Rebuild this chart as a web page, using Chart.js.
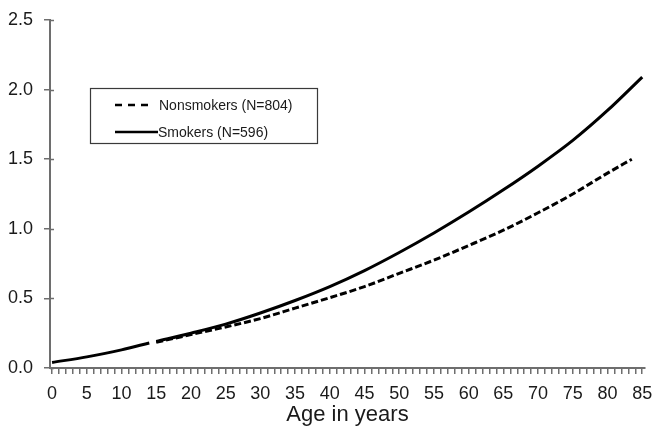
<!DOCTYPE html>
<html>
<head>
<meta charset="utf-8">
<script src="https://cdn.jsdelivr.net/npm/chart.js@4/dist/chart.umd.min.js"></script>
<style>
  html, body { margin: 0; padding: 0; background: #ffffff; }
  #wrap { width: 655px; height: 429px; }
</style>
</head>
<body>
<div id="wrap"><canvas id="c" width="655" height="429"></canvas></div>
<script>
// ---- Data ----
const childAges = [0, 5, 10, 14];
const childValues = [0.04, 0.08, 0.13, 0.18];

const smokerAges = [15, 20, 25, 30, 35, 40, 45, 50, 55, 60, 65, 70, 75, 80, 85];
const smokerValues = [0.19, 0.25, 0.315, 0.395, 0.485, 0.585, 0.70, 0.83, 0.97, 1.12, 1.28, 1.45, 1.635, 1.85, 2.09];

const nonsmokerAges = [15, 20, 25, 30, 35, 40, 45, 50, 55, 60, 65, 70, 75, 80, 83.5];
const nonsmokerValues = [0.185, 0.24, 0.295, 0.355, 0.43, 0.505, 0.585, 0.68, 0.775, 0.88, 0.99, 1.115, 1.25, 1.40, 1.50];

const seriesLabels = ['Nonsmokers (N=804)', 'Smokers (N=596)'];
const xTickLabels = [0, 5, 10, 15, 20, 25, 30, 35, 40, 45, 50, 55, 60, 65, 70, 75, 80, 85];
const yTickLabels = [0.0, 0.5, 1.0, 1.5, 2.0, 2.5];
const xAxisTitle = 'Age in years';

const pts = (xs, ys) => xs.map((x, i) => ({ x: x, y: ys[i] }));

const AXIS = '#6e6e6e';
const FONT = "'Liberation Sans', Arial, sans-serif";

const legendPlugin = {
  id: 'boxLegend',
  afterDraw(chart) {
    const ctx = chart.ctx;
    const ds = chart.data.datasets.filter(d => d.showInLegend);
    ctx.save();
    ctx.strokeStyle = '#3a3a3a';
    ctx.lineWidth = 1.2;
    ctx.strokeRect(90.5, 88.5, 227, 55);
    ctx.font = '14px ' + FONT;
    ctx.fillStyle = '#1a1a1a';
    ctx.textBaseline = 'middle';
    const rows = [105, 132];
    ds.forEach((d, i) => {
      const y = rows[i];
      const dashed = d.borderDash && d.borderDash.length;
      ctx.beginPath();
      ctx.strokeStyle = '#000';
      ctx.lineWidth = 2.5;
      if (dashed) {
        ctx.setLineDash([7, 6]);
        ctx.moveTo(115, y); ctx.lineTo(148, y);
      } else {
        ctx.setLineDash([]);
        ctx.moveTo(115, y); ctx.lineTo(158, y);
      }
      ctx.stroke();
      ctx.setLineDash([]);
      ctx.fillText(d.label, dashed ? 159 : 158, y + 1);
    });
    ctx.restore();
  }
};

const innerTicks = {
  id: 'innerTicks',
  afterDraw(chart) {
    const ctx = chart.ctx;
    const ys = chart.scales.y;
    const left = chart.chartArea.left;
    ctx.save();
    ctx.strokeStyle = AXIS;
    ctx.lineWidth = 1.5;
    yTickLabels.forEach(v => {
      const py = Math.round(ys.getPixelForValue(v)) + 0.5;
      ctx.beginPath();
      ctx.moveTo(left, py); ctx.lineTo(left + 4, py);
      ctx.stroke();
    });
    ctx.restore();
  }
};

new Chart(document.getElementById('c'), {
  type: 'line',
  data: {
    datasets: [
      {
        label: '',
        data: pts(childAges, childValues),
        borderColor: '#000', borderWidth: 3, pointRadius: 0,
        cubicInterpolationMode: 'monotone', showInLegend: false
      },
      {
        label: seriesLabels[0],
        data: pts(nonsmokerAges, nonsmokerValues),
        borderColor: '#000', borderWidth: 3, borderDash: [7, 3], pointRadius: 0,
        cubicInterpolationMode: 'monotone', showInLegend: true
      },
      {
        label: seriesLabels[1],
        data: pts(smokerAges, smokerValues),
        borderColor: '#000', borderWidth: 3, pointRadius: 0,
        cubicInterpolationMode: 'monotone', showInLegend: true
      }
    ]
  },
  options: {
    responsive: false,
    animation: false,
    devicePixelRatio: 1,
    layout: { padding: { top: 20, right: 10, left: 0, bottom: 0 } },
    plugins: { legend: { display: false }, tooltip: { enabled: false } },
    scales: {
      x: {
        type: 'linear',
        min: -0.3, max: 85.4,
        afterFit: s => { s.height = 61; s.paddingLeft = 0; s.paddingRight = 0; },
        afterBuildTicks: s => {
          const t = [];
          for (let v = 0; v <= 85; v++) t.push({ value: v });
          s.ticks = t;
        },
        ticks: {
          autoSkip: false, maxRotation: 0, minRotation: 0, padding: 9,
          color: '#1a1a1a',
          font: { family: FONT, size: 18 },
          callback: v => (xTickLabels.includes(v) ? String(v) : '')
        },
        grid: { drawOnChartArea: false, drawTicks: true, tickLength: 6, color: AXIS, lineWidth: 1.5 },
        border: { display: true, color: AXIS, width: 2 },
        title: {
          display: true, text: xAxisTitle, color: '#1a1a1a',
          font: { family: FONT, size: 22 }, padding: { top: 0, bottom: 1 }
        }
      },
      y: {
        min: 0, max: 2.5,
        afterFit: s => { s.width = 50; s.paddingTop = 0; s.paddingBottom = 0; },
        afterBuildTicks: s => { s.ticks = yTickLabels.map(v => ({ value: v })); },
        ticks: {
          padding: 11, color: '#1a1a1a',
          font: { family: FONT, size: 18 },
          callback: v => Number(v).toFixed(1)
        },
        grid: { drawOnChartArea: false, drawTicks: true, tickLength: 6, color: AXIS, lineWidth: 1.5 },
        border: { display: true, color: AXIS, width: 2 }
      }
    }
  },
  plugins: [legendPlugin, innerTicks]
});
</script>
</body>
</html>
